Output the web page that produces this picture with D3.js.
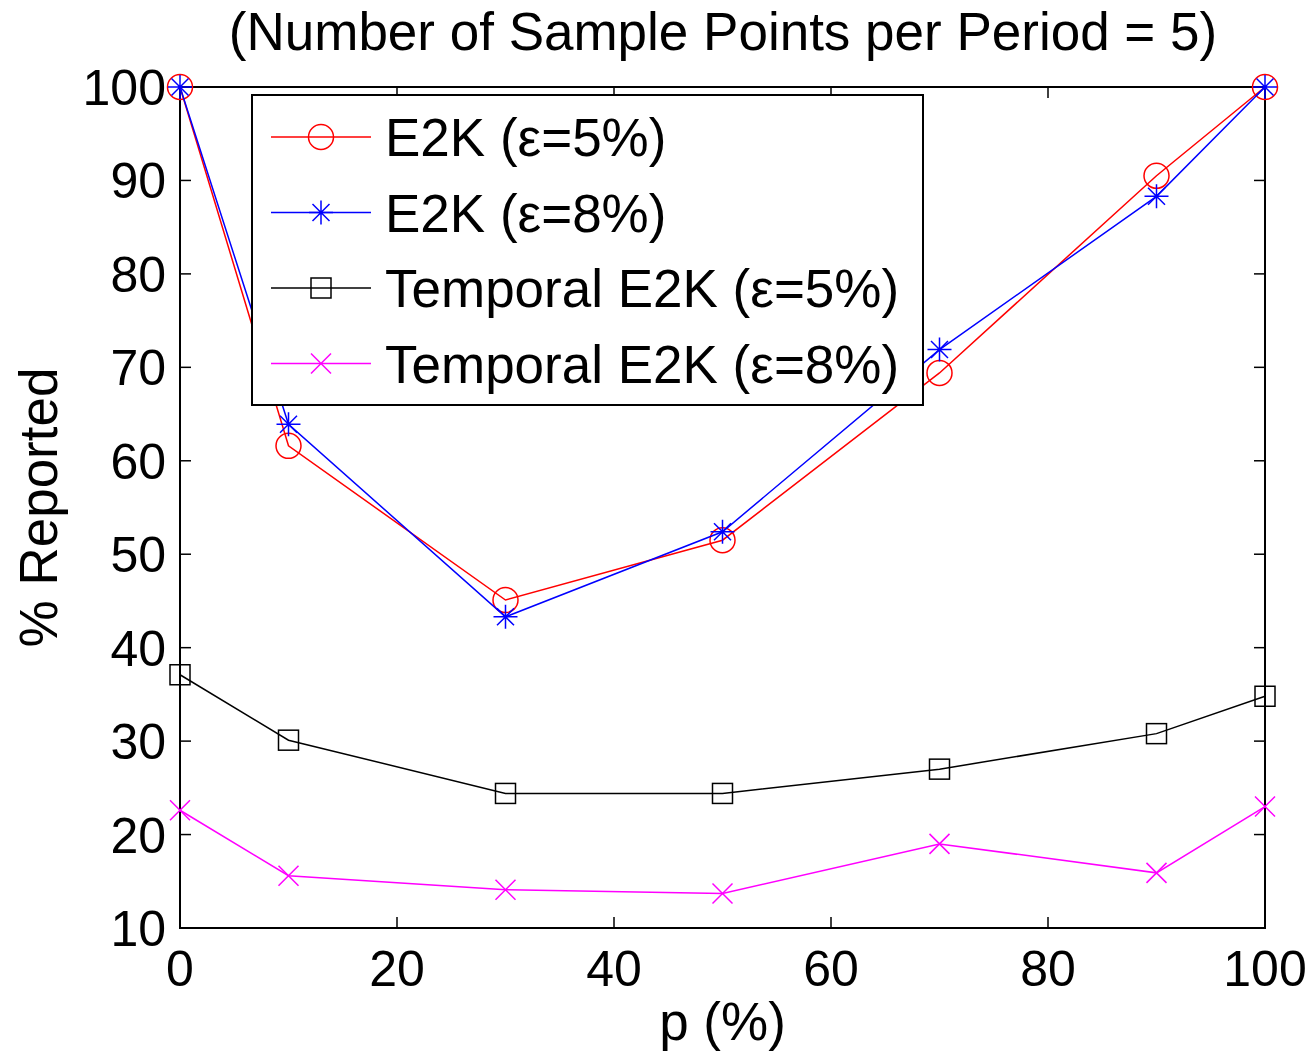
<!DOCTYPE html>
<html><head><meta charset="utf-8">
<script src="https://cdn.jsdelivr.net/npm/d3@7"></script>
<style>body{margin:0;background:#fff}svg{display:block}text{font-family:"Liberation Sans",Arial,sans-serif}</style>
</head><body>
<script>
const xValues = [0, 10, 30, 50, 70, 90, 100];
const e2k5 = [100, 61.6, 45.1, 51.5, 69.4, 90.5, 100];
const e2k8 = [100, 63.9, 43.3, 52.4, 71.9, 88.3, 100];
const temporal5 = [37.1, 30.1, 24.4, 24.4, 27.0, 30.8, 34.8];
const temporal8 = [22.6, 15.6, 14.1, 13.7, 19.0, 15.9, 23.0];
const seriesNames = ["E2K (ε=5%)", "E2K (ε=8%)", "Temporal E2K (ε=5%)", "Temporal E2K (ε=8%)"];
const seriesColors = ["#ff0000", "#0000ff", "#000000", "#ff00ff"];
const seriesMarkers = ["circle", "star", "square", "cross"];
const xTicks = [0, 20, 40, 60, 80, 100];
const yTicks = [10, 20, 30, 40, 50, 60, 70, 80, 90, 100];
const titleText = "(Number of Sample Points per Period = 5)";
const xLabel = "p (%)";
const yLabel = "% Reported";

const W = 1315, H = 1053;
const m = {left: 180, right: 50, top: 87, bottom: 125};
const svg = d3.select("body").append("svg").attr("width", W).attr("height", H);
const x = d3.scaleLinear().domain([0, 100]).range([m.left, W - m.right]);
const y = d3.scaleLinear().domain([10, 100]).range([H - m.bottom, m.top]);
const FS = 50;

// axes box
const g = svg.append("g");
g.append("rect").attr("x", x(0)).attr("y", y(100)).attr("width", x(100) - x(0)).attr("height", y(10) - y(100))
  .attr("fill", "none").attr("stroke", "#000").attr("stroke-width", 2);
const tl = 11;
xTicks.forEach(t => {
  g.append("line").attr("x1", x(t)).attr("x2", x(t)).attr("y1", y(10)).attr("y2", y(10) - tl).attr("stroke", "#000").attr("stroke-width", 1.5);
  g.append("line").attr("x1", x(t)).attr("x2", x(t)).attr("y1", y(100)).attr("y2", y(100) + tl).attr("stroke", "#000").attr("stroke-width", 1.5);
  g.append("text").attr("x", x(t)).attr("y", y(10) + 58).attr("text-anchor", "middle").attr("font-size", FS).text(t);
});
yTicks.forEach(t => {
  g.append("line").attr("x1", x(0)).attr("x2", x(0) + tl).attr("y1", y(t)).attr("y2", y(t)).attr("stroke", "#000").attr("stroke-width", 1.5);
  g.append("line").attr("x1", x(100)).attr("x2", x(100) - tl).attr("y1", y(t)).attr("y2", y(t)).attr("stroke", "#000").attr("stroke-width", 1.5);
  g.append("text").attr("x", x(0) - 14).attr("y", y(t)).attr("dy", "0.36em").attr("text-anchor", "end").attr("font-size", FS).text(t);
});

svg.append("text").attr("x", 723).attr("y", 50).attr("text-anchor", "middle").attr("font-size", 53).text(titleText);
svg.append("text").attr("x", (x(0) + x(100)) / 2).attr("y", 1040).attr("text-anchor", "middle").attr("font-size", 53).text(xLabel);
svg.append("text").attr("transform", `translate(57,${(y(10) + y(100)) / 2}) rotate(-90)`).attr("text-anchor", "middle").attr("font-size", 53).text(yLabel);

function marker(sel, type, color) {
  if (type === "circle") sel.append("circle").attr("r", 12.5).attr("fill", "none").attr("stroke", color).attr("stroke-width", 1.5);
  else if (type === "square") sel.append("rect").attr("x", -10).attr("y", -10).attr("width", 20).attr("height", 20).attr("fill", "none").attr("stroke", color).attr("stroke-width", 1.5);
  else if (type === "star") sel.append("path").attr("d", "M-12,0H12M0,-12V12M-8.5,-8.5L8.5,8.5M-8.5,8.5L8.5,-8.5").attr("stroke", color).attr("stroke-width", 1.5);
  else if (type === "cross") sel.append("path").attr("d", "M-10,-10L10,10M-10,10L10,-10").attr("stroke", color).attr("stroke-width", 1.5);
}

const allSeries = [e2k5, e2k8, temporal5, temporal8];
const line = d3.line().x((d, i) => x(xValues[i])).y(d => y(d));
allSeries.forEach((vals, si) => {
  const sg = svg.append("g");
  sg.append("path").attr("d", line(vals)).attr("fill", "none").attr("stroke", seriesColors[si]).attr("stroke-width", 1.5);
  vals.forEach((v, i) => {
    const mg = sg.append("g").attr("transform", `translate(${x(xValues[i])},${y(v)})`);
    marker(mg, seriesMarkers[si], seriesColors[si]);
  });
});

// legend
const lg = svg.append("g");
lg.append("rect").attr("x", 252).attr("y", 95).attr("width", 671).attr("height", 310).attr("fill", "#fff").attr("stroke", "#000").attr("stroke-width", 2);
seriesNames.forEach((n, i) => {
  const cy = 137 + i * 75.5;
  lg.append("line").attr("x1", 271).attr("x2", 371).attr("y1", cy).attr("y2", cy).attr("stroke", seriesColors[i]).attr("stroke-width", 1.5);
  marker(lg.append("g").attr("transform", `translate(321,${cy})`), seriesMarkers[i], seriesColors[i]);
  lg.append("text").attr("x", 385).attr("y", cy).attr("dy", "0.36em").attr("font-size", 53).text(n);
});
</script>
</body></html>
